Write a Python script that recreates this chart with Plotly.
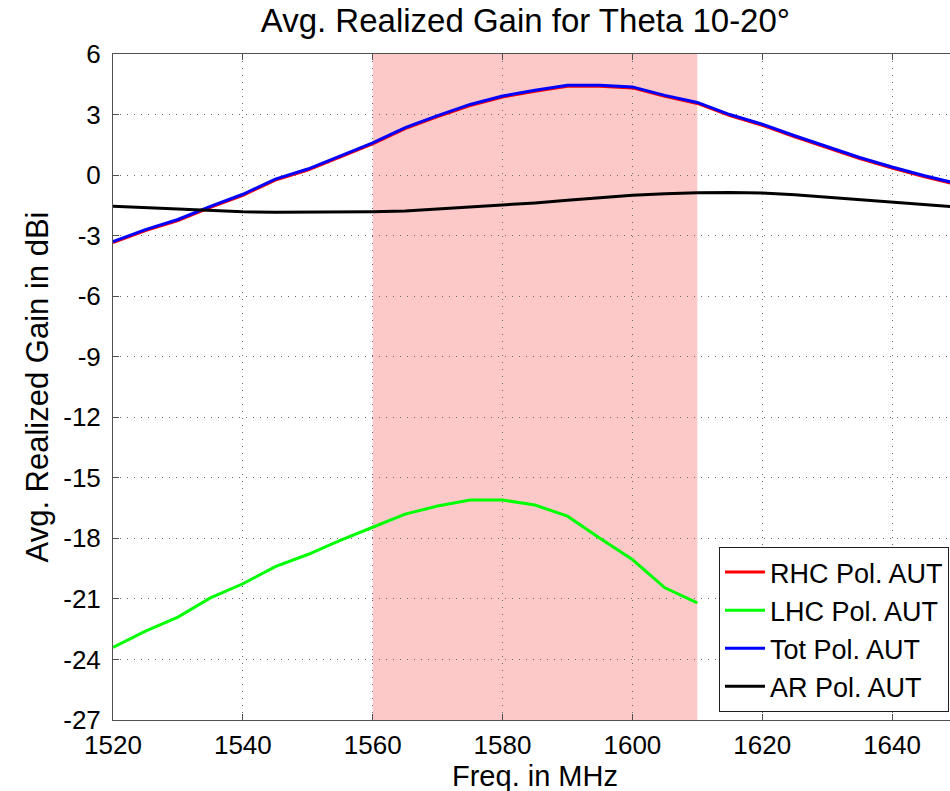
import plotly.graph_objects as go

freq = [1520, 1525, 1530, 1535, 1540, 1545, 1550, 1555, 1560, 1565, 1570, 1575, 1580,
        1585, 1590, 1595, 1600, 1605, 1610, 1615, 1620, 1625, 1630, 1635, 1640, 1645, 1650]

tot_gain = [-3.3, -2.7, -2.2, -1.55, -0.95, -0.2, 0.3, 0.95, 1.6, 2.35, 2.95, 3.5, 3.92,
            4.2, 4.45, 4.45, 4.37, 3.95, 3.6, 3.0, 2.52, 1.95, 1.4, 0.87, 0.4, -0.03, -0.42]
rhc_gain = [-3.35, -2.75, -2.25, -1.6, -1.0, -0.25, 0.25, 0.9, 1.55, 2.3, 2.9, 3.45, 3.87,
            4.15, 4.4, 4.4, 4.32, 3.9, 3.55, 2.95, 2.47, 1.9, 1.35, 0.82, 0.35, -0.08, -0.47]
ar_gain = [-1.55, -1.62, -1.68, -1.75, -1.82, -1.84, -1.84, -1.83, -1.82, -1.78, -1.68, -1.6, -1.5,
           -1.38, -1.25, -1.12, -1.0, -0.92, -0.87, -0.86, -0.89, -0.98, -1.1, -1.22, -1.34, -1.46, -1.58]
lhc_freq = freq[:19]
lhc_gain = [-23.4, -22.6, -21.9, -20.95, -20.25, -19.4, -18.8, -18.1, -17.45, -16.8, -16.4, -16.1,
            -16.1, -16.35, -16.9, -18.0, -19.05, -20.45, -21.2]

band = [1560, 1610]
x_ticks = [1520, 1540, 1560, 1580, 1600, 1620, 1640]
y_ticks = [6, 3, 0, -3, -6, -9, -12, -15, -18, -21, -24, -27]
y_tick_text = ["6", "3", "0", "-3", "-6", "-9", "-12", "-15", "-18", "-21", "-24", "-27"]

FONT = "Liberation Sans, Arial, sans-serif"

fig = go.Figure()
fig.add_trace(go.Scatter(x=freq, y=rhc_gain, mode="lines", name="RHC Pol. AUT",
                         line=dict(color="#ff0000", width=3)))
fig.add_trace(go.Scatter(x=lhc_freq, y=lhc_gain, mode="lines", name="LHC Pol. AUT",
                         line=dict(color="#00ff00", width=3)))
fig.add_trace(go.Scatter(x=freq, y=tot_gain, mode="lines", name="Tot Pol. AUT",
                         line=dict(color="#0000ff", width=3)))
fig.add_trace(go.Scatter(x=freq, y=ar_gain, mode="lines", name="AR Pol. AUT",
                         line=dict(color="#000000", width=3)))

fig.add_shape(type="rect", xref="x", yref="paper", x0=band[0], x1=band[1], y0=0, y1=1,
              fillcolor="rgb(252,200,200)", line=dict(width=0), layer="below")

axis_common = dict(
    showline=True, linecolor="#505050", linewidth=1, mirror="ticks",
    ticks="inside", ticklen=6, tickcolor="#505050",
    showgrid=True, gridcolor="#6a6a6a", gridwidth=1, griddash="1px,6px",
    zeroline=False, tickfont=dict(family=FONT, size=26, color="black"),
)

fig.update_xaxes(range=[1520, 1650], tickvals=x_ticks, ticktext=[str(v) for v in x_ticks],
                 ticklabelstandoff=2, **axis_common)
fig.update_yaxes(range=[-27, 6], tickvals=y_ticks, ticktext=y_tick_text,
                 ticklabelstandoff=6,
                 title=dict(text="Avg. Realized Gain in dBi", font=dict(family=FONT, size=31, color="black"),
                            standoff=5),
                 **axis_common)

# x-axis title placed as an annotation just below the tick labels
fig.add_annotation(text="Freq. in MHz", xref="paper", yref="paper", x=0.5, y=0,
                   xanchor="center", yanchor="middle", yshift=-56, showarrow=False,
                   font=dict(family=FONT, size=29, color="black"))

fig.update_layout(
    width=957, height=791,
    margin=dict(l=113, r=0, t=54, b=71),
    paper_bgcolor="white", plot_bgcolor="white",
    title=dict(text="Avg. Realized Gain for Theta 10-20°", x=0.549, xanchor="center",
               y=0.974, yanchor="middle",
               font=dict(family=FONT, size=33, color="black")),
    legend=dict(x=0.9905, y=0.012, xanchor="right", yanchor="bottom",
                bgcolor="white", bordercolor="#202020", borderwidth=1,
                font=dict(family=FONT, size=27, color="black"),
                tracegroupgap=0, itemwidth=40),
    showlegend=True,
)

fig.write_html("out.html", config={"displayModeBar": False},
               post_script="document.body.style.margin='0';document.body.style.overflow='hidden';")
